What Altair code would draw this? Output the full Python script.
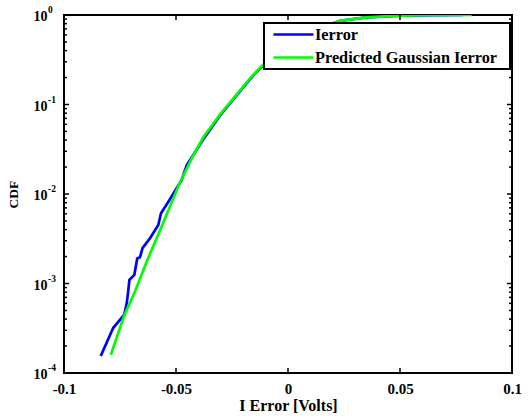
import altair as alt
import pandas as pd

# ---- data ----
blue_x = [-0.0836, -0.0780, -0.0731, -0.0720, -0.0714, -0.0708, -0.0686, -0.0673,
          -0.0661, -0.0649, -0.0616, -0.0579, -0.0567, -0.0534, -0.0497, -0.0475,
          -0.0452, -0.0378, -0.0304, -0.0229, -0.0155, -0.0110, -0.003, 0.008,
          0.0232, 0.035, 0.050, 0.065, 0.078]
blue_cdf = [1.55e-4, 3.2e-4, 4.5e-4, 6.0e-4, 7.9e-4, 1.1e-3, 1.25e-3, 1.9e-3,
            1.96e-3, 2.5e-3, 3.2e-3, 4.5e-3, 6.1e-3, 8.2e-3, 0.0116, 0.0143,
            0.021, 0.041, 0.075, 0.127, 0.212, 0.275, 0.42, 0.62,
            0.86, 0.94, 0.985, 0.997, 1.0]

green_x = [-0.0791, -0.0731, -0.0680, -0.0631, -0.0560, -0.0482, -0.0420, -0.0378,
           -0.0304, -0.0229, -0.0155, -0.0110, -0.003, 0.008, 0.0232, 0.035,
           0.048, 0.060, 0.082]
green_cdf = [1.6e-4, 4.4e-4, 8.5e-4, 1.75e-3, 4.6e-3, 0.0135, 0.028, 0.043,
             0.077, 0.130, 0.215, 0.28, 0.43, 0.63, 0.86, 0.94,
             0.98, 0.995, 1.0]

series_names = ["Ierror", "Predicted Gaussian Ierror"]
series_colors = ["#0000ff", "#00ff00"]

x_ticks = [-0.1, -0.05, 0, 0.05, 0.1]
y_decades = [1e-4, 1e-3, 1e-2, 1e-1, 1e0]
y_exponents = ["-4", "-3", "-2", "-1", "0"]
y_minor = [m * d for d in y_decades[:-1] for m in range(2, 10)]

W, H = 448, 358
FONT = "Liberation Serif"

df = pd.concat([
    pd.DataFrame({"x": blue_x, "cdf": blue_cdf, "series": series_names[0]}),
    pd.DataFrame({"x": green_x, "cdf": green_cdf, "series": series_names[1]}),
])

xs = alt.Scale(domain=[-0.1, 0.1], nice=False, zero=False)
ys = alt.Scale(type="log", domain=[1e-4, 1], nice=False)

color = alt.Color(
    "series:N",
    scale=alt.Scale(domain=series_names, range=series_colors),
    legend=alt.Legend(
        title="\u00a0", titleOrient="right", titlePadding=10, titleFontSize=16,
        orient="none", legendX=200, legendY=8, direction="vertical",
        symbolType="M-0.286,0H5.43", symbolSize=196, symbolStrokeWidth=2.5,
        labelFont=FONT, labelFontSize=16.3, labelFontWeight="bold", labelColor="black",
        labelOffset=31, fillColor="white", strokeColor="black", padding=3,
        rowPadding=6, labelLimit=400,
    ),
)

xaxis = alt.Axis(
    values=x_ticks, format="~g", labelExpr="replace(datum.label, '\u2212', '-')",
    labelFont=FONT, labelFontSize=15, labelFontWeight="bold", labelColor="black",
    labelPadding=8, ticks=False, tickSize=0, domain=False, grid=False,
    title="I Error [Volts]", titleFont=FONT, titleFontSize=16, titleFontWeight="bold",
    titleColor="black", titlePadding=1, labelFlush=False,
)
yaxis = alt.Axis(
    labels=False, ticks=False, tickSize=0, domain=False, grid=False, minExtent=0,
    title="CDF", titleFont=FONT, titleFontSize=13.5, titleFontWeight="bold",
    titleColor="black", titlePadding=44,
)

base = alt.Chart(df)


def series_layer(name):
    return base.transform_filter(alt.datum.series == name).mark_line(
        strokeWidth=2.7, clip=True
    ).encode(
        x=alt.X("x:Q", scale=xs, axis=xaxis),
        y=alt.Y("cdf:Q", scale=ys, axis=yaxis),
        color=color,
        order="x:Q",
    )


blue = series_layer(series_names[0])
green = series_layer(series_names[1])

xt = alt.Chart(pd.DataFrame({"t": x_ticks}))
ymaj = alt.Chart(pd.DataFrame({"v": y_decades, "e": y_exponents}))
ymin = alt.Chart(pd.DataFrame({"v": y_minor}))

XT = alt.X("t:Q", scale=xs, axis=xaxis)
YV = alt.Y("v:Q", scale=ys, axis=yaxis)

rule = dict(color="black", strokeWidth=1.5)
tick_layers = [
    xt.mark_rule(**rule).encode(x=XT, y=alt.value(H), y2=alt.value(H - 5)),
    xt.mark_rule(**rule).encode(x=XT, y=alt.value(0), y2=alt.value(5)),
    ymaj.mark_rule(**rule).encode(y=YV, x=alt.value(0), x2=alt.value(5)),
    ymaj.mark_rule(**rule).encode(y=YV, x=alt.value(W), x2=alt.value(W - 5)),
    ymin.mark_rule(**rule).encode(y=YV, x=alt.value(0), x2=alt.value(3)),
    ymin.mark_rule(**rule).encode(y=YV, x=alt.value(W), x2=alt.value(W - 3)),
]

ylab_base = ymaj.mark_text(
    align="right", baseline="middle", font=FONT, fontSize=14, fontWeight="bold",
    color="black", dy=2,
).encode(y=YV, x=alt.value(-16.5), text=alt.value("10"))
ylab_exp = ymaj.mark_text(
    align="left", baseline="middle", font=FONT, fontSize=9.5, fontWeight="bold",
    color="black", dy=-5,
).encode(y=YV, x=alt.value(-16), text="e:N")

chart = alt.layer(
    blue, green, *tick_layers, ylab_base, ylab_exp
).properties(
    width=W, height=H, background="white",
    padding={"left": 64, "top": 15, "right": 16, "bottom": 45},
    autosize=alt.AutoSizeParams(type="none"),
).configure_view(
    stroke="black", strokeWidth=2
).configure_legend(
    strokeWidth=2
)

chart.save("out.html", embed_options={"renderer": "svg", "actions": False})
